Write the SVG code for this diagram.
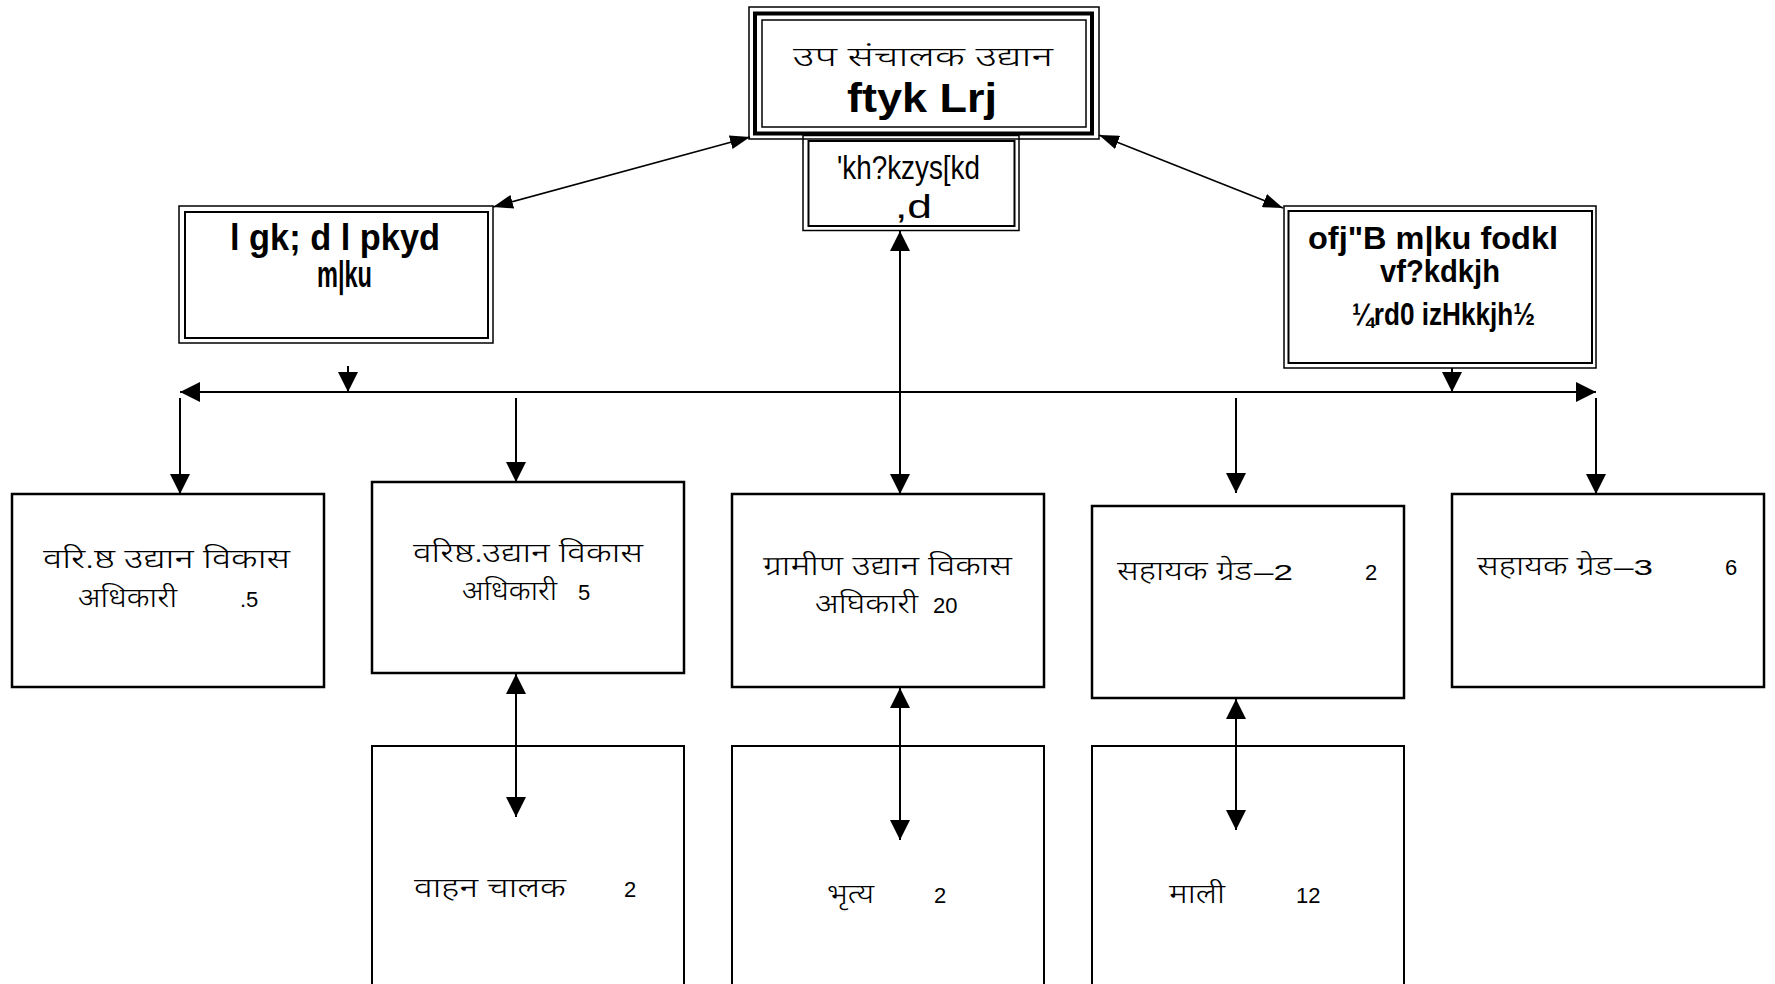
<svg xmlns="http://www.w3.org/2000/svg" width="1775" height="984" viewBox="0 0 1775 984">
<style>
.bg{fill:#fff}
.box{fill:#fff;stroke:#000;stroke-width:2.5}
.box2{fill:none;stroke:#000;stroke-width:2}
.t1{fill:none;stroke:#000;stroke-width:1.5}
.t2{fill:none;stroke:#000;stroke-width:2}
.thick{fill:none;stroke:#000;stroke-width:4}
.conn{stroke:#000;stroke-width:2;fill:none}
.diag{stroke:#000;stroke-width:1.6;fill:none}
.hi{font-family:"Noto Sans Devanagari","Lohit Devanagari","Noto Sans","Liberation Sans",sans-serif;font-size:27px;font-weight:300;fill:#000}
.num{font-family:"Liberation Sans",Arial,sans-serif;font-size:22px;fill:#000}
.kd{font-family:"Liberation Sans",Arial,sans-serif;font-weight:bold;fill:#000}
.kr{font-family:"Liberation Sans",Arial,sans-serif;fill:#000}
</style>
<defs>
<marker id="ah" markerUnits="userSpaceOnUse" markerWidth="20" markerHeight="20" viewBox="0 0 20 20" refX="20" refY="10" orient="auto-start-reverse"><path d="M0,0 L20,10 L0,20 z" fill="#000"/></marker>
<marker id="ahs" markerUnits="userSpaceOnUse" markerWidth="20" markerHeight="14" viewBox="0 0 20 14" refX="20" refY="7" orient="auto-start-reverse"><path d="M0,0 L20,7 L0,14 z" fill="#000"/></marker>
</defs>
<rect class="bg" x="0" y="0" width="1775" height="984"/>

<g id="connectors">
<line class="diag" x1="750" y1="137" x2="493" y2="207" marker-start="url(#ahs)" marker-end="url(#ahs)"/>
<line class="diag" x1="1099" y1="135" x2="1283" y2="208" marker-start="url(#ahs)" marker-end="url(#ahs)"/>
<line class="conn" x1="180" y1="392" x2="1596" y2="392" marker-start="url(#ah)" marker-end="url(#ah)"/>
<line class="conn" x1="348" y1="366" x2="348" y2="392" marker-end="url(#ah)"/>
<line class="conn" x1="1452" y1="368" x2="1452" y2="392" marker-end="url(#ah)"/>
<line class="conn" x1="180" y1="398" x2="180" y2="494" marker-end="url(#ah)"/>
<line class="conn" x1="516" y1="398" x2="516" y2="482" marker-end="url(#ah)"/>
<line class="conn" x1="1236" y1="398" x2="1236" y2="493" marker-end="url(#ah)"/>
<line class="conn" x1="1596" y1="398" x2="1596" y2="494" marker-end="url(#ah)"/>
<line class="conn" x1="900" y1="231" x2="900" y2="494" marker-start="url(#ah)" marker-end="url(#ah)"/>
<line class="conn" x1="516" y1="674" x2="516" y2="817" marker-start="url(#ah)" marker-end="url(#ah)"/>
<line class="conn" x1="900" y1="688" x2="900" y2="840" marker-start="url(#ah)" marker-end="url(#ah)"/>
<line class="conn" x1="1236" y1="699" x2="1236" y2="830" marker-start="url(#ah)" marker-end="url(#ah)"/>
</g>

<g id="node-top">
<rect class="t1" x="749" y="7" width="350" height="132" fill="#fff"/>
<rect class="thick" x="755" y="13.5" width="337" height="120"/>
<rect class="t1" x="762" y="20" width="324" height="107"/>
<text class="hi" x="793" y="66" font-size="31" textLength="260" lengthAdjust="spacingAndGlyphs">उप संचालक उद्यान</text>
<text class="kd" x="847" y="112" font-size="41" textLength="150" lengthAdjust="spacingAndGlyphs">ftyk Lrj</text>
</g>

<g id="node-steno">
<rect class="t1" x="803" y="135.5" width="216" height="95" fill="#fff"/>
<rect class="t2" x="808.5" y="141" width="206" height="85"/>
<text class="kr" x="837" y="179" font-size="33" textLength="143" lengthAdjust="spacingAndGlyphs">'kh?kzys[kd</text>
<text class="kr" x="895" y="218" font-size="33" textLength="37" lengthAdjust="spacingAndGlyphs">,d</text>
</g>

<g id="node-asst-director">
<rect class="t1" x="179" y="206" width="314" height="137" fill="#fff"/>
<rect class="t2" x="185" y="212" width="303" height="126"/>
<text class="kd" x="230" y="250" font-size="36" textLength="210" lengthAdjust="spacingAndGlyphs">l gk; d  l pkyd</text>
<text class="kd" x="317" y="287" font-size="36" textLength="55" lengthAdjust="spacingAndGlyphs">m|ku</text>
</g>

<g id="node-senior-officer">
<rect class="t1" x="1284" y="206" width="312" height="162" fill="#fff"/>
<rect class="t2" x="1288.5" y="211" width="303.5" height="152"/>
<text class="kd" x="1308" y="249" font-size="31" textLength="250" lengthAdjust="spacingAndGlyphs">ofj"B m|ku fodkl</text>
<text class="kd" x="1380" y="282" font-size="31" textLength="120" lengthAdjust="spacingAndGlyphs">vf?kdkjh</text>
<text class="kd" x="1352" y="325" font-size="31" textLength="183" lengthAdjust="spacingAndGlyphs">¼rd0 izHkkjh½</text>
</g>

<g id="node-b1">
<rect class="box" x="12" y="494" width="312" height="193"/>
<text class="hi" x="43" y="568" textLength="247" lengthAdjust="spacingAndGlyphs">वरि.ष्ठ उद्यान विकास</text>
<text class="hi" x="78" y="607" textLength="99" lengthAdjust="spacingAndGlyphs">अधिकारी</text>
<text class="num" x="240" y="607">.5</text>
</g>

<g id="node-b2">
<rect class="box" x="372" y="482" width="312" height="191"/>
<text class="hi" x="413" y="562" textLength="230" lengthAdjust="spacingAndGlyphs">वरिष्ठ.उद्यान विकास</text>
<text class="hi" x="462" y="600" textLength="95" lengthAdjust="spacingAndGlyphs">अधिकारी</text>
<text class="num" x="578" y="600">5</text>
</g>

<g id="node-b3">
<rect class="box" x="732" y="494" width="312" height="193"/>
<text class="hi" x="763" y="575" textLength="249" lengthAdjust="spacingAndGlyphs">ग्रामीण उद्यान विकास</text>
<text class="hi" x="815" y="613" textLength="103" lengthAdjust="spacingAndGlyphs">अघिकारी</text>
<text class="num" x="933" y="613">20</text>
</g>

<g id="node-b4">
<rect class="box" x="1092" y="506" width="312" height="192"/>
<text class="hi" x="1117" y="580" textLength="135" lengthAdjust="spacingAndGlyphs">सहायक ग्रेड</text>
<text class="num" x="1254" y="580" textLength="39" lengthAdjust="spacingAndGlyphs">–2</text>
<text class="num" x="1365" y="580">2</text>
</g>

<g id="node-b5">
<rect class="box" x="1452" y="494" width="312" height="193"/>
<text class="hi" x="1477" y="575" textLength="135" lengthAdjust="spacingAndGlyphs">सहायक ग्रेड</text>
<text class="num" x="1614" y="575" textLength="39" lengthAdjust="spacingAndGlyphs">–3</text>
<text class="num" x="1725" y="575">6</text>
</g>

<g id="node-c1">
<rect class="box2" x="372" y="746" width="312" height="260"/>
<text class="hi" x="414" y="897" textLength="152" lengthAdjust="spacingAndGlyphs">वाहन चालक</text>
<text class="num" x="624" y="897">2</text>
</g>

<g id="node-c2">
<rect class="box2" x="732" y="746" width="312" height="260"/>
<text class="hi" x="827" y="903" textLength="47" lengthAdjust="spacingAndGlyphs">भृत्य</text>
<text class="num" x="934" y="903">2</text>
</g>

<g id="node-c3">
<rect class="box2" x="1092" y="746" width="312" height="260"/>
<text class="hi" x="1169" y="903" textLength="56" lengthAdjust="spacingAndGlyphs">माली</text>
<text class="num" x="1296" y="903">12</text>
</g>
</svg>
